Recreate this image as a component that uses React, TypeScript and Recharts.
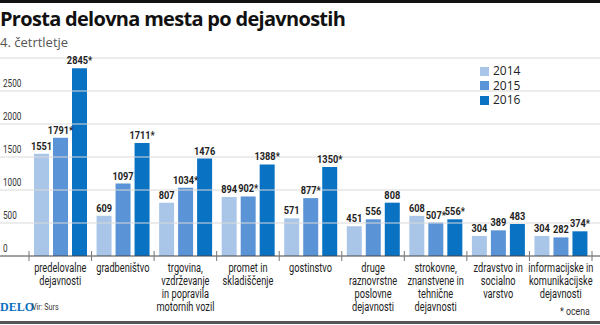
import React from 'react';
import { BarChart, Bar, XAxis, YAxis, LabelList, Legend } from 'recharts';

const categories = [
  'predelovalne\ndejavnosti',
  'gradbeništvo',
  'trgovina,\nvzdrževanje\nin popravila\nmotornih vozil',
  'promet in\nskladiščenje',
  'gostinstvo',
  'druge\nraznovrstne\nposlovne\ndejavnosti',
  'strokovne,\nznanstvene in\ntehnične\ndejavnosti',
  'zdravstvo in\nsocialno\nvarstvo',
  'informacijske in\nkomunikacijske\ndejavnosti',
];
const v2014 = [1551, 609, 807, 894, 571, 451, 608, 304, 304];
const v2015 = [1791, 1097, 1034, 902, 877, 556, 507, 389, 282];
const v2016 = [2845, 1711, 1476, 1388, 1350, 808, 556, 483, 374];
const l2014 = ['1551', '609', '807', '894', '571', '451', '608', '304', '304'];
const l2015 = ['1791*', '1097', '1034*', '902*', '877*', '556', '507*', '389', '282'];
const l2016 = ['2845*', '1711*', '1476', '1388*', '1350*', '808', '556*', '483', '374*'];
const years = ['2014', '2015', '2016'];
const yTicks = [0, 500, 1000, 1500, 2000, 2500, 3000];

const COLORS = ['#a9c6e9', '#5b94d6', '#0a72c3'];
const FONT = "Roboto, 'Open Sans', sans-serif";

const data = categories.map((name, i) => ({
  name,
  y2014: v2014[i],
  y2015: v2015[i],
  y2016: v2016[i],
  l2014: l2014[i],
  l2015: l2015[i],
  l2016: l2016[i],
}));

const YTick = (props: any) => {
  const { y, payload } = props;
  const v = payload.value;
  return (
    <g>
      <line x1={0} x2={600} y1={y} y2={y} stroke={v === 0 ? '#444' : '#d9d9d9'} strokeWidth={1} />
      {v !== 3000 && (
        <text transform={`translate(3,${y - 4}) scale(0.78,1)`} x={0} y={0} fontSize={10.5} fill="#333" fontFamily={FONT}>
          {v}
        </text>
      )}
    </g>
  );
};

const XTick = (props: any) => {
  const { x, y, payload, index } = props;
  const off = payload && typeof payload.offset === 'number' && payload.offset > 0 ? payload.offset : 31.3;
  const lines = String(payload.value).split('\n');
  return (
    <g>
      <line x1={x - off} x2={x - off} y1={y - 5} y2={y + 5} stroke="#777" />
      {index === categories.length - 1 && (
        <line x1={x + off} x2={x + off} y1={y - 5} y2={y + 5} stroke="#777" />
      )}
      <text transform={`translate(${x},${y}) scale(0.71,1)`} x={0} y={0} textAnchor="middle" fontSize={13} fill="#222" fontFamily={FONT}>
        {lines.map((l, i) => (
          <tspan key={i} x={0} dy={i === 0 ? 16.5 : 12.7}>
            {l}
          </tspan>
        ))}
      </text>
    </g>
  );
};

const makeLabel = (key: string) => (props: any) => {
  const { x, y, width, index } = props;
  const txt = (data as any)[index][key];
  return (
    <text transform={`translate(${x + width / 2},${y - 4}) scale(0.8,1)`} x={0} y={0} textAnchor="middle" fontSize={11.5} fontWeight="bold" fill="#222" fontFamily={FONT}>
      {txt}
    </text>
  );
};

const LegendContent = () => (
  <div style={{ fontFamily: "'Open Sans', sans-serif", fontSize: 12, lineHeight: '14px', color: '#222' }}>
    {years.map((yr, i) => (
      <div key={yr} style={{ display: 'flex', alignItems: 'center', height: 14.5 }}>
        <span style={{ display: 'inline-block', width: 9, height: 9, background: COLORS[i], marginRight: 4 }} />
        <span>{yr}</span>
      </div>
    ))}
  </div>
);

const cond = (s: number): React.CSSProperties => ({ display: 'inline-block', transform: `scaleX(${s})`, transformOrigin: 'left center' });

export default function App() {
  return (
    <div style={{ position: 'absolute', left: 0, top: 0, width: 600, height: 325, background: '#fff', overflow: 'hidden' }}>
      <div style={{ position: 'absolute', left: 0, top: 0, width: 600, height: 3, background: '#111' }} />
      <div style={{ position: 'absolute', left: 0, top: 5, fontFamily: "'Open Sans', sans-serif", fontWeight: 700, fontSize: 20, color: '#111', letterSpacing: -0.7, whiteSpace: 'nowrap' }}>
        Prosta delovna mesta po dejavnostih
      </div>
      <div style={{ position: 'absolute', left: 0, top: 33, fontFamily: "'Open Sans', sans-serif", fontSize: 13, color: '#555', whiteSpace: 'nowrap' }}>
        4. četrtletje
      </div>
      <div style={{ position: 'absolute', left: 0, top: 0 }}>
        <BarChart
          width={600}
          height={325}
          data={data}
          margin={{ top: 58, right: 8, bottom: 9, left: 0 }}
          barSize={15}
          barGap={4}
        >
          <YAxis
            type="number"
            domain={[0, 3000]}
            ticks={yTicks}
            width={29}
            axisLine={false}
            tickLine={false}
            tick={<YTick />}
            interval={0}
          />
          <XAxis
            dataKey="name"
            axisLine={false}
            tickLine={false}
            tickSize={0}
            tickMargin={0}
            height={60}
            interval={0}
            tick={<XTick />}
          />
          <Legend
            layout="vertical"
            align="center"
            verticalAlign="middle"
            wrapperStyle={{ position: 'absolute', top: 64, left: 480, width: 60 }}
            content={<LegendContent />}
          />
          <Bar dataKey="y2014" name="2014" fill={COLORS[0]} isAnimationActive={false}>
            <LabelList dataKey="y2014" content={makeLabel('l2014')} />
          </Bar>
          <Bar dataKey="y2015" name="2015" fill={COLORS[1]} isAnimationActive={false}>
            <LabelList dataKey="y2015" content={makeLabel('l2015')} />
          </Bar>
          <Bar dataKey="y2016" name="2016" fill={COLORS[2]} isAnimationActive={false}>
            <LabelList dataKey="y2016" content={makeLabel('l2016')} />
          </Bar>
        </BarChart>
      </div>
      <div style={{ position: 'absolute', left: 0, top: 300, fontFamily: "'Liberation Serif', serif", fontWeight: 700, fontSize: 12, color: '#0a6fc0', whiteSpace: 'nowrap' }}>
        DELO
      </div>
      <div style={{ position: 'absolute', left: 32, top: 302, fontFamily: FONT, fontSize: 9, color: '#333', whiteSpace: 'nowrap' }}>
        <span style={cond(0.8)}>Vir: Surs</span>
      </div>
      <div style={{ position: 'absolute', left: 560, top: 305, fontFamily: FONT, fontSize: 11, color: '#333', whiteSpace: 'nowrap' }}>
        <span style={cond(0.8)}>* ocena</span>
      </div>
      <div style={{ position: 'absolute', left: 0, top: 321, width: 600, height: 3, background: '#555' }} />
    </div>
  );
}
